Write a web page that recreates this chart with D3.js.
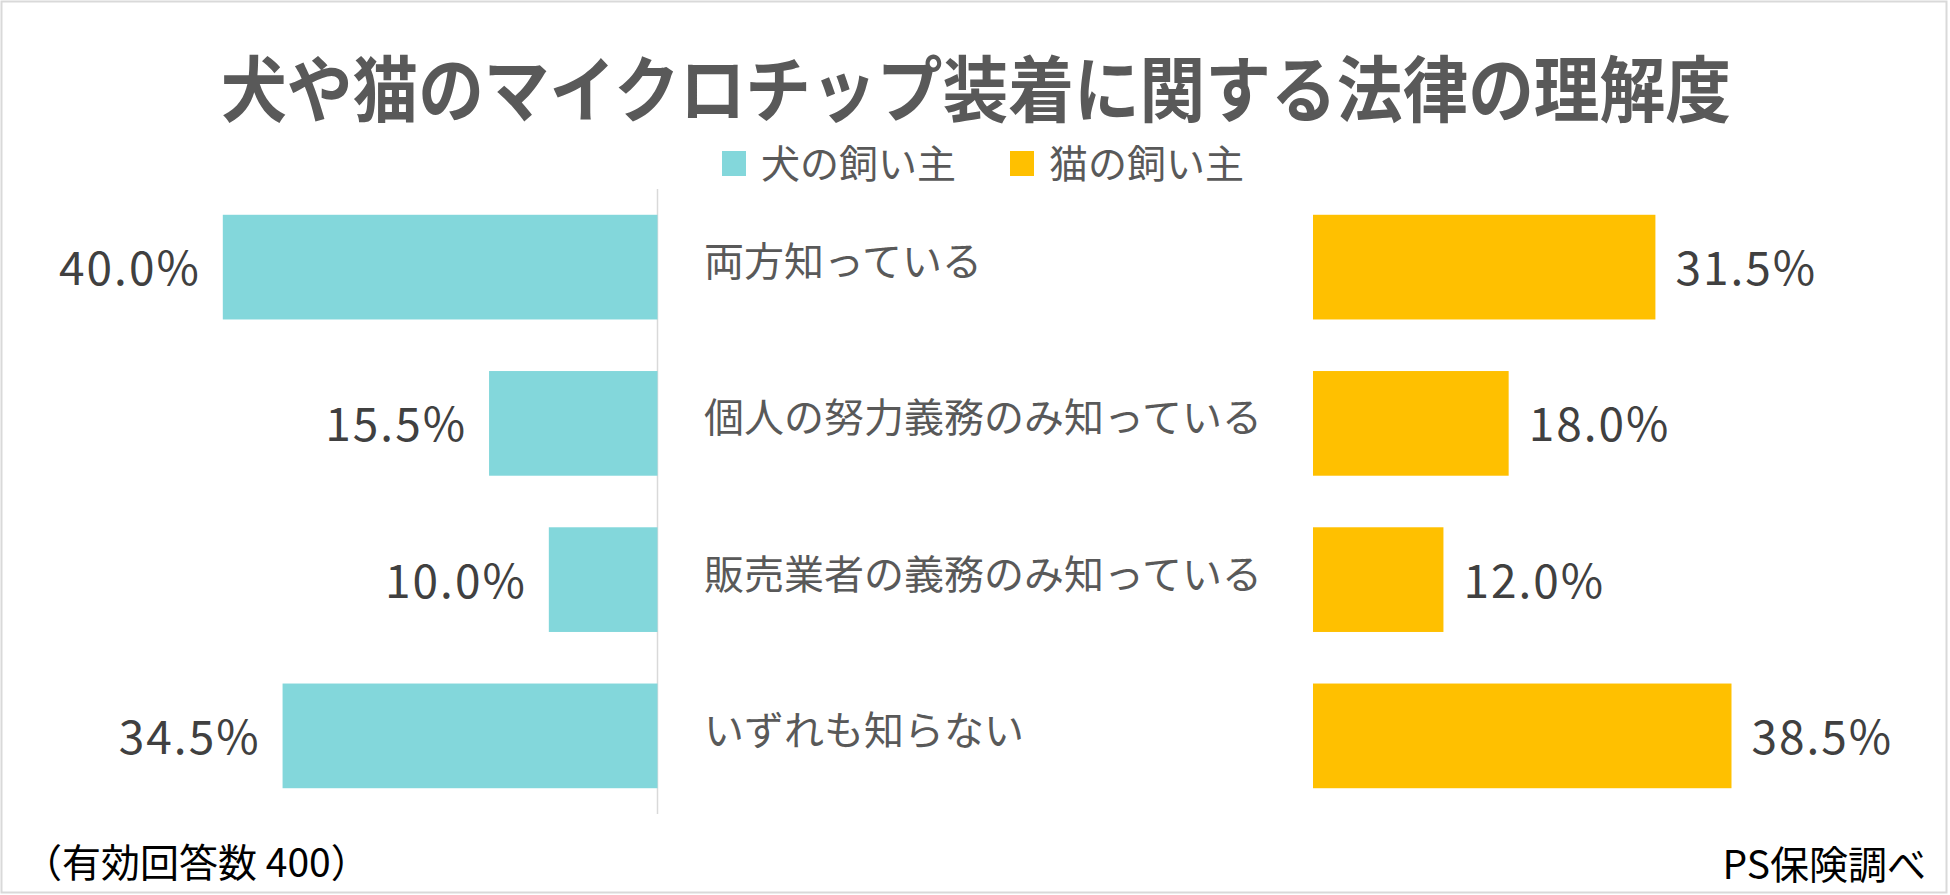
<!DOCTYPE html>
<html><head><meta charset="utf-8">
<script src="https://cdn.jsdelivr.net/npm/d3@7"></script>
<style>
html,body{margin:0;padding:0;background:#fff;}
svg text{font-family:"Noto Sans CJK JP","Noto Sans",sans-serif;}
</style></head>
<body><svg id="c" width="1950" height="895"></svg>
<script>
const title = "犬や猫のマイクロチップ装着に関する法律の理解度";
const categories = ["両方知っている","個人の努力義務のみ知っている","販売業者の義務のみ知っている","いずれも知らない"];
const seriesNames = ["犬の飼い主","猫の飼い主"];
const dogValues = [40.0, 15.5, 10.0, 34.5];
const catValues = [31.5, 18.0, 12.0, 38.5];
const colors = ["#83D7DB","#FFC000"];
const noteLeft = "（有効回答数 400）";
const noteRight = "PS保険調べ";

const svg = d3.select("#c");
svg.append("rect").attr("x",1.5).attr("y",1.5).attr("width",1945).attr("height",891)
  .attr("fill","#fff").attr("stroke","#d9d9d9").attr("stroke-width",2);

svg.append("text").attr("x",976).attr("y",84).attr("text-anchor","middle")
  .attr("dominant-baseline","central").attr("font-size",72).attr("font-weight",700)
  .attr("textLength",1510).attr("lengthAdjust","spacingAndGlyphs")
  .attr("fill","#595959").text(title);

// legend
const leg = [{x:722},{x:1010}];
seriesNames.forEach((n,i)=>{
  svg.append("rect").attr("x",leg[i].x).attr("y",151).attr("width",24).attr("height",25).attr("fill",colors[i]);
  svg.append("text").attr("x",leg[i].x+39).attr("y",161).attr("dominant-baseline","central")
    .attr("font-size",39).attr("fill","#595959").text(n);
});

const y = d3.scaleBand().domain(categories).range([189,814]).paddingInner(0.33).paddingOuter(0.165);
const xL = d3.scaleLinear().domain([0,40]).range([657.5,222.8]);
const xR = d3.scaleLinear().domain([0,40]).range([1313,1747.8]);

svg.append("line").attr("x1",657.5).attr("x2",657.5).attr("y1",189).attr("y2",814)
  .attr("stroke","#d9d9d9").attr("stroke-width",1.5);

svg.selectAll(".dog").data(categories).enter().append("rect")
  .attr("x",(d,i)=>xL(dogValues[i])).attr("y",d=>y(d))
  .attr("width",(d,i)=>xL(0)-xL(dogValues[i])).attr("height",y.bandwidth()).attr("fill",colors[0]);
svg.selectAll(".cat").data(categories).enter().append("rect")
  .attr("x",xR(0)).attr("y",d=>y(d))
  .attr("width",(d,i)=>xR(catValues[i])-xR(0)).attr("height",y.bandwidth()).attr("fill",colors[1]);

const fmt = d3.format(".1f");
svg.selectAll(".dl").data(categories).enter().append("text")
  .attr("x",(d,i)=>xL(dogValues[i])-22).attr("y",d=>y(d)+y.bandwidth()/2-2)
  .attr("text-anchor","end").attr("dominant-baseline","central")
  .attr("font-size",46).attr("letter-spacing",2).attr("fill","#404040")
  .text((d,i)=>fmt(dogValues[i])+"%");
svg.selectAll(".cl").data(categories).enter().append("text")
  .attr("x",(d,i)=>xR(catValues[i])+20).attr("y",d=>y(d)+y.bandwidth()/2-2)
  .attr("text-anchor","start").attr("dominant-baseline","central")
  .attr("font-size",46).attr("letter-spacing",2).attr("fill","#404040")
  .text((d,i)=>fmt(catValues[i])+"%");

svg.selectAll(".cn").data(categories).enter().append("text")
  .attr("x",704).attr("y",d=>y(d)+y.bandwidth()/2-8)
  .attr("dominant-baseline","central").attr("font-size",40).attr("fill","#595959")
  .text(d=>d);

svg.append("text").attr("x",23).attr("y",860).attr("dominant-baseline","central")
  .attr("font-size",39).attr("fill","#000").text(noteLeft);
svg.append("text").attr("x",1926).attr("y",862).attr("text-anchor","end").attr("dominant-baseline","central")
  .attr("font-size",39).attr("fill","#000").text(noteRight);
</script></body></html>
